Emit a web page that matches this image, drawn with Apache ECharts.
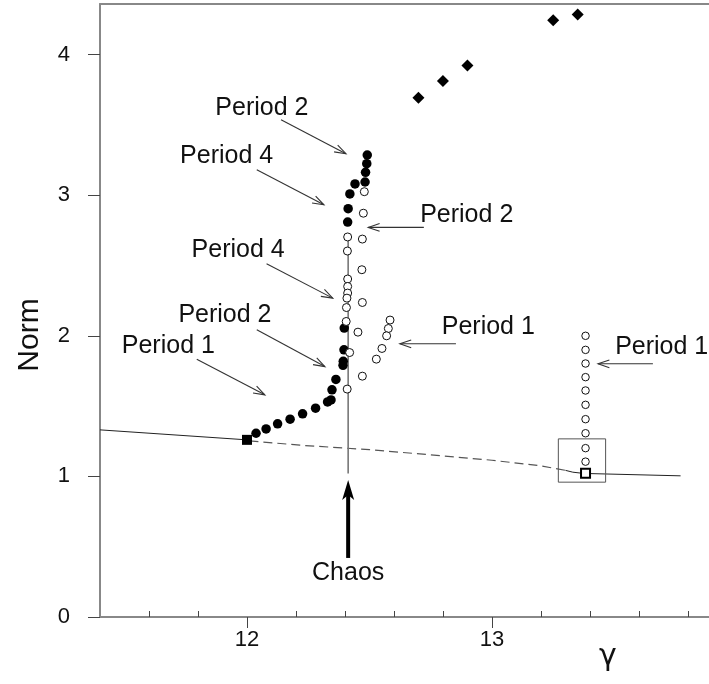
<!DOCTYPE html>
<html>
<head>
<meta charset="utf-8">
<script src="https://cdn.jsdelivr.net/npm/echarts@6/dist/echarts.min.js"></script>
<style>
  html, body { margin: 0; padding: 0; background: #fff; }
  #chart { width: 709px; height: 684px; }
</style>
</head>
<body>
<div id="chart"></div>
<script>
// values: [gamma, norm]
const filledPts = [
  [12.491, 3.286], [12.489, 3.224], [12.484, 3.163], [12.482, 3.094], [12.441, 3.080],
  [12.420, 3.009], [12.413, 2.904], [12.411, 2.809], [12.397, 2.055], [12.396, 1.900],
  [12.393, 1.819], [12.392, 1.790], [12.363, 1.690], [12.347, 1.616], [12.343, 1.544],
  [12.329, 1.530], [12.280, 1.485], [12.227, 1.445], [12.176, 1.407], [12.125, 1.374],
  [12.078, 1.338], [12.037, 1.307]
]
const openPts = [
  [12.479, 3.025], [12.475, 2.872], [12.411, 2.703], [12.471, 2.688], [12.410, 2.603],
  [12.469, 2.470], [12.411, 2.404], [12.411, 2.351], [12.411, 2.304], [12.408, 2.268],
  [12.471, 2.237], [12.406, 2.201], [12.405, 2.102], [12.453, 2.026], [12.584, 2.112],
  [12.577, 2.052], [12.570, 2.000], [12.551, 1.910], [12.528, 1.834], [12.419, 1.881],
  [12.471, 1.713], [12.409, 1.621]
]
const rightOpenPts = [
  [13.382, 2.0], [13.382, 1.9], [13.382, 1.803], [13.382, 1.706], [13.382, 1.611],
  [13.382, 1.509], [13.382, 1.407], [13.382, 1.307], [13.382, 1.201], [13.382, 1.105]
]
const diamondPts = [[12.70, 3.694], [12.80, 3.813], [12.90, 3.922], [13.25, 4.244], [13.35, 4.285]]
const filledSquare = [[12.0, 1.26]]
const openSquare = [[13.382, 1.022]]

const branchLeft = [[11.4, 1.331], [12.0, 1.26]]
const branchDashed = [[12.01, 1.253], [12.216, 1.222], [12.5, 1.19], [12.706, 1.16], [13.0, 1.115], [13.2, 1.075], [13.30, 1.043]]
const branchRight = [[13.30, 1.043], [13.33, 1.03], [13.37, 1.022], [13.40, 1.02], [13.77, 1.004]]
const chaosLine = [[12.413, 2.71], [12.413, 1.02]]
const boxCorners = [[13.271, 0.959], [13.464, 0.959], [13.464, 1.267], [13.271, 1.267], [13.271, 0.959]]

const xMinorTicks = [11.6, 11.8, 12.2, 12.4, 12.6, 12.8, 13.2, 13.4, 13.6, 13.8]
const xMajorTicks = [12, 13]
const yTicks = [0, 1, 2, 3, 4]

// annotations: text + centre, arrows as [x1, y1, x2(tip), y2(tip)]
const labelText = ['Period 2', 'Period 4', 'Period 4', 'Period 2', 'Period 1', 'Period 2', 'Period 1', 'Period 1', 'Chaos']
const labelPos = [
  [12.061, 3.623], [11.917, 3.281], [11.964, 2.607], [11.910, 2.149], [11.679, 1.924],
  [12.897, 2.861], [12.985, 2.062], [13.693, 1.922], [12.413, 0.311]
]
const periodArrows = [
  [12.139, 3.537, 12.404, 3.295],
  [12.040, 3.181, 12.314, 2.932],
  [12.080, 2.512, 12.350, 2.268],
  [12.040, 2.043, 12.318, 1.781],
  [11.795, 1.834, 12.073, 1.580],
  [12.722, 2.771, 12.495, 2.771],
  [12.853, 1.943, 12.624, 1.943],
  [13.657, 1.801, 13.433, 1.801]
]
const chaosArrow = [[12.413, 0.42, 12.413, 0.975]]

const chart = echarts.init(document.getElementById('chart'))
const FONT = 'Liberation Sans, Arial, sans-serif'
const axisGray = '#888'

function arrowItem (params, api) {
  const p1 = api.coord([api.value(0), api.value(1)])
  const p2 = api.coord([api.value(2), api.value(3)])
  const a = Math.atan2(p2[1] - p1[1], p2[0] - p1[0])
  const len = 12
  const spread = 0.33
  const h1 = [p2[0] - len * Math.cos(a - spread), p2[1] - len * Math.sin(a - spread)]
  const h2 = [p2[0] - len * Math.cos(a + spread), p2[1] - len * Math.sin(a + spread)]
  return {
    type: 'group',
    children: [
      { type: 'line', shape: { x1: p1[0], y1: p1[1], x2: p2[0], y2: p2[1] }, style: { stroke: '#333', lineWidth: 1.1 } },
      { type: 'polyline', shape: { points: [h1, p2, h2] }, style: { stroke: '#333', fill: null, lineWidth: 1.1 } }
    ]
  }
}

function chaosItem (params, api) {
  const p1 = api.coord([api.value(0), api.value(1)])
  const p2 = api.coord([api.value(2), api.value(3)])
  return {
    type: 'group',
    children: [
      { type: 'line', shape: { x1: p1[0], y1: p1[1], x2: p2[0], y2: p2[1] + 14 }, style: { stroke: '#000', lineWidth: 4 } },
      {
        type: 'polygon',
        shape: { points: [[p2[0], p2[1]], [p2[0] + 6, p2[1] + 20], [p2[0], p2[1] + 15], [p2[0] - 6, p2[1] + 20]] },
        style: { fill: '#000' }
      }
    ]
  }
}

function labelItem (params, api) {
  const p = api.coord([api.value(0), api.value(1)])
  return {
    type: 'text',
    x: p[0],
    y: p[1],
    style: {
      text: labelText[params.dataIndex],
      fill: '#111',
      font: '25px ' + FONT,
      align: 'center',
      verticalAlign: 'middle'
    }
  }
}

const option = {
  animation: false,
  backgroundColor: '#fff',
  grid: { left: 100, right: 0, top: 4, bottom: 67 },
  xAxis: [
    {
      type: 'value', position: 'bottom', min: 11.4, max: 13.886,
      axisLine: { lineStyle: { color: axisGray, width: 2 } },
      axisTick: { inside: true, length: 6, customValues: xMinorTicks, lineStyle: { color: '#444' } },
      axisLabel: { show: false },
      splitLine: { show: false }
    },
    {
      type: 'value', position: 'bottom', min: 11.4, max: 13.886,
      axisLine: { show: false },
      axisTick: { length: 11, customValues: xMajorTicks, lineStyle: { color: '#444' } },
      axisLabel: { customValues: xMajorTicks, fontSize: 22, color: '#111', fontFamily: FONT, margin: 12 },
      splitLine: { show: false }
    },
    {
      type: 'value', position: 'top', min: 11.4, max: 13.886,
      axisLine: { lineStyle: { color: axisGray, width: 2 } },
      axisTick: { show: false },
      axisLabel: { show: false },
      splitLine: { show: false }
    }
  ],
  yAxis: {
    type: 'value', min: 0, max: 4.36,
    axisLine: { show: true, lineStyle: { color: axisGray, width: 2 } },
    axisTick: { show: true, length: 12, customValues: yTicks, lineStyle: { color: '#444' } },
    axisLabel: { customValues: yTicks, fontSize: 22, color: '#111', fontFamily: FONT, margin: 30 },
    splitLine: { show: false }
  },
  graphic: [
    { type: 'text', x: 30, y: 335, rotation: Math.PI / 2, style: { text: 'Norm', font: '30px ' + FONT, fill: '#111', align: 'center', verticalAlign: 'middle' } },
    { type: 'text', x: 608, y: 657, style: { text: 'γ', font: '30px DejaVu Sans, sans-serif', fill: '#111', align: 'center', verticalAlign: 'middle' } }
  ],
  series: [
    { type: 'line', data: branchLeft, symbol: 'none', lineStyle: { color: '#222', width: 1 }, z: 1 },
    { type: 'line', data: branchDashed, symbol: 'none', lineStyle: { color: '#555', width: 1.2, type: [9, 5] }, z: 1 },
    { type: 'line', data: branchRight, symbol: 'none', lineStyle: { color: '#222', width: 1 }, z: 1 },
    { type: 'line', data: chaosLine, symbol: 'none', lineStyle: { color: '#777', width: 1.6 }, z: 1 },
    { type: 'line', data: boxCorners, symbol: 'none', lineStyle: { color: '#555', width: 1 }, z: 1 },
    { type: 'scatter', data: filledPts, symbol: 'circle', symbolSize: 9.5, itemStyle: { color: '#000', opacity: 1 }, z: 3 },
    { type: 'scatter', data: openPts, symbol: 'circle', symbolSize: 8, itemStyle: { color: '#fff', borderColor: '#111', borderWidth: 1, opacity: 1 }, z: 3 },
    { type: 'scatter', data: rightOpenPts, symbol: 'circle', symbolSize: 7.5, itemStyle: { color: '#fff', borderColor: '#111', borderWidth: 1, opacity: 1 }, z: 3 },
    { type: 'scatter', data: diamondPts, symbol: 'diamond', symbolSize: 12, itemStyle: { color: '#000', opacity: 1 }, z: 3 },
    { type: 'scatter', data: filledSquare, symbol: 'rect', symbolSize: 10, itemStyle: { color: '#000', opacity: 1 }, z: 3 },
    { type: 'scatter', data: openSquare, symbol: 'rect', symbolSize: 9, itemStyle: { color: '#fff', borderColor: '#000', borderWidth: 2, opacity: 1 }, z: 4 },
    { type: 'custom', data: periodArrows, renderItem: arrowItem, clip: false, z: 2 },
    { type: 'custom', data: chaosArrow, renderItem: chaosItem, clip: false, z: 2 },
    { type: 'custom', data: labelPos, renderItem: labelItem, clip: false, z: 2 }
  ]
}

chart.setOption(option)
</script>
</body>
</html>
